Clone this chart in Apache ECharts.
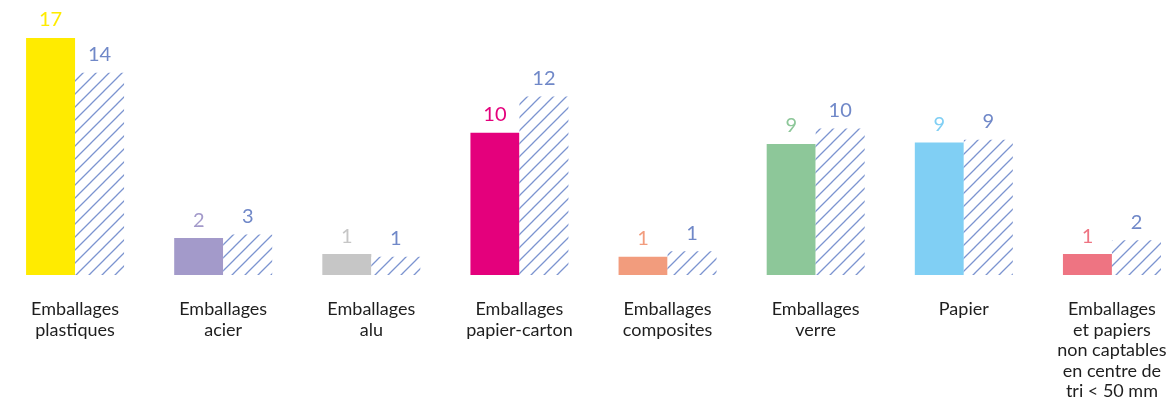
<!DOCTYPE html>
<html>
<head>
<meta charset="utf-8">
<script src="https://cdn.jsdelivr.net/npm/echarts@6/dist/echarts.min.js"></script>
<style>
html,body{margin:0;padding:0;background:#fff;overflow:hidden;}
#chart{width:1186px;height:406px;}
</style>
</head>
<body>
<div id="chart"></div>
<script>
// Categories
const categories = [
  "Emballages\nplastiques",
  "Emballages\nacier",
  "Emballages\nalu",
  "Emballages\npapier-carton",
  "Emballages\ncomposites",
  "Emballages\nverre",
  "Papier",
  "Emballages\net papiers\nnon captables\nen centre de\ntri < 50 mm"
];
// Series values
const solidValues   = [17.0, 2.65, 1.5, 10.2, 1.3, 9.4, 9.5, 1.5];
const hatchedValues = [14.5, 2.9, 1.3, 12.8, 1.7, 10.5, 9.7, 2.5];
// Printed labels
const solidLabels   = [17, 2, 1, 10, 1, 9, 9, 1];
const hatchedLabels = [14, 3, 1, 12, 1, 10, 9, 2];
// Colours
const solidColors = ["#ffeb00", "#a39aca", "#c6c6c6", "#e4007c", "#f29c7d", "#8dc799", "#80cff4", "#ee7482"];
const hatchColor = "#7c94d0";

function makeHatch() {
  const s = 13;
  const c = document.createElement('canvas');
  c.width = s; c.height = s;
  const g = c.getContext('2d');
  g.fillStyle = '#ffffff';
  g.fillRect(0, 0, s, s);
  g.strokeStyle = hatchColor;
  g.lineWidth = 1.3;
  g.beginPath();
  g.moveTo(-2, s + 2); g.lineTo(s + 2, -2);
  g.moveTo(-2, 2); g.lineTo(2, -2);
  g.moveTo(s - 2, s + 2); g.lineTo(s + 2, s - 2);
  g.stroke();
  return c;
}

const chart = echarts.init(document.getElementById('chart'), null, {renderer: 'canvas'});
const font = 'Lato';

chart.setOption({
  animation: false,
  grid: {left: 1, top: 24, right: 0, bottom: 131, containLabel: false},
  xAxis: {
    type: 'category',
    data: categories,
    axisLine: {show: false},
    axisTick: {show: false},
    axisLabel: {
      interval: 0,
      margin: 24,
      color: '#1e1e1e',
      fontFamily: font,
      fontSize: 18,
      lineHeight: 20.5
    }
  },
  yAxis: {
    type: 'value',
    min: 0,
    max: 18,
    show: false,
    splitLine: {show: false}
  },
  series: [
    {
      type: 'bar',
      barWidth: 49,
      barGap: '0%',
      data: solidValues.map((v, i) => ({
        value: v,
        itemStyle: {color: solidColors[i]},
        label: {color: solidColors[i]}
      })),
      label: {
        show: true,
        position: 'top',
        distance: 8,
        fontFamily: font,
        fontSize: 20,
        formatter: p => String(solidLabels[p.dataIndex])
      }
    },
    {
      type: 'bar',
      barWidth: 49,
      barGap: '0%',
      data: hatchedValues,
      itemStyle: {color: {image: makeHatch(), repeat: 'repeat'}},
      label: {
        show: true,
        position: 'top',
        distance: 8,
        color: '#7088c8',
        fontFamily: font,
        fontSize: 20,
        formatter: p => String(hatchedLabels[p.dataIndex])
      }
    }
  ]
});
</script>
</body>
</html>
